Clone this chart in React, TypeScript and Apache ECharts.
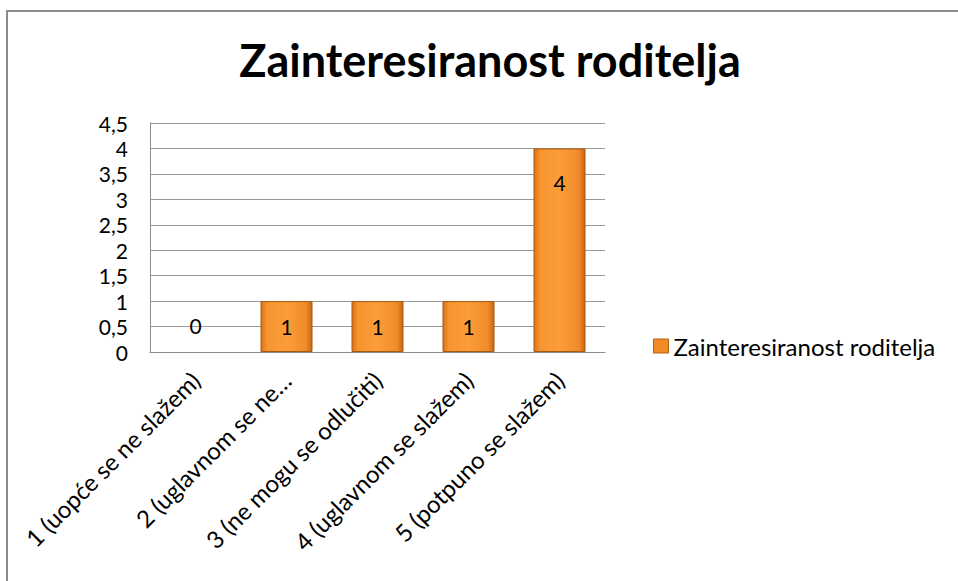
import React, { useEffect, useRef } from "react";
import * as echarts from "echarts";

const title = "Zainteresiranost roditelja";
const seriesName = "Zainteresiranost roditelja";
const categories = [
  "1 (uopće se ne slažem)",
  "2 (uglavnom se ne…",
  "3 (ne mogu se odlučiti)",
  "4 (uglavnom se slažem)",
  "5 (potpuno se slažem)",
];
const values = [0, 1, 1, 1, 4];
const yMin = 0;
const yMax = 4.5;
const yStep = 0.5;

const FONT = "Lato, 'Open Sans', sans-serif";

export default function App() {
  const ref = useRef<HTMLDivElement>(null);
  useEffect(() => {
    if (!ref.current) return;
    const chart = echarts.init(ref.current, undefined, { renderer: "svg" });
    const barColor = new echarts.graphic.LinearGradient(0, 0, 1, 0, [
      { offset: 0, color: "#d9731a" },
      { offset: 0.12, color: "#f7952f" },
      { offset: 0.5, color: "#fb9d3a" },
      { offset: 0.88, color: "#f08b28" },
      { offset: 1, color: "#c86615" },
    ]);
    const labelFor = (v: number) => {
      if (v === 0) return { position: "top", distance: 16 };
      if (v >= 2) return { position: "insideTop", distance: 24 };
      return { position: "inside" };
    };
    chart.setOption({
      animation: false,
      backgroundColor: "#ffffff",
      title: {
        text: title,
        left: 485,
        textAlign: "center",
        top: 32,
        textStyle: { fontFamily: FONT, fontWeight: "bold", fontSize: 45, color: "#000" },
      },
      legend: {
        left: 648,
        top: 329,
        itemWidth: 15,
        itemHeight: 14,
        itemGap: 8,
        icon: "rect",
        textStyle: { fontFamily: FONT, fontSize: 24, color: "#000" },
        data: [{ name: seriesName, itemStyle: { color: "#f08b28", borderColor: "#b3600f", borderWidth: 1 } }],
      },
      grid: { left: 150, right: 353, top: 123, bottom: 229, containLabel: false },
      xAxis: {
        type: "category",
        data: categories,
        axisLine: { show: true, lineStyle: { color: "#8c8c8c", width: 1 } },
        axisTick: { show: false },
        axisLabel: {
          interval: 0,
          rotate: 45,
          margin: 24,
          fontFamily: FONT,
          fontSize: 24,
          color: "#000",
        },
      },
      yAxis: {
        type: "value",
        min: yMin,
        max: yMax,
        interval: yStep,
        axisLine: { show: true, lineStyle: { color: "#8c8c8c", width: 1 } },
        axisTick: { show: false },
        splitLine: { lineStyle: { color: "#999999", width: 1 } },
        axisLabel: {
          margin: 22,
          fontFamily: FONT,
          fontSize: 21,
          color: "#000",
          formatter: (v: number) => String(v).replace(".", ","),
        },
      },
      series: [
        {
          name: seriesName,
          type: "bar",
          barWidth: 52,
          data: values.map((v) => ({
            value: v,
            label: { show: true, ...labelFor(v) },
            itemStyle:
              v === 0
                ? { color: "transparent", borderColor: "transparent", borderWidth: 0 }
                : undefined,
          })),
          itemStyle: { color: barColor, borderColor: "#a9590f", borderWidth: 1 },
          label: {
            show: true,
            fontFamily: FONT,
            fontSize: 21,
            color: "#000",
          },
        },
      ],
      graphic: [
        {
          type: "rect",
          shape: { x: 7, y: 11, width: 1000, height: 600 },
          style: { fill: "none", stroke: "#8a8a8a", lineWidth: 2 },
          silent: true,
        },
      ],
    });
    return () => chart.dispose();
  }, []);
  return (
    <div
      ref={ref}
      style={{ position: "fixed", left: 0, top: 0, width: 958, height: 581 }}
    />
  );
}
